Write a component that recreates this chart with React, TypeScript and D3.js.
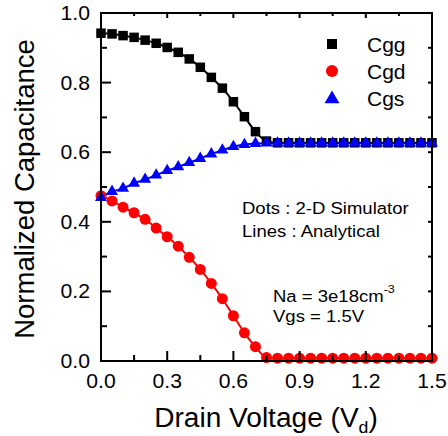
import React from "react";
import * as d3 from "d3";

const drainV = [0, 0.05, 0.1, 0.15, 0.2, 0.25, 0.3, 0.35, 0.4, 0.45, 0.5, 0.55, 0.6, 0.65, 0.7, 0.75, 0.8, 0.85, 0.9, 0.95, 1.0, 1.05, 1.1, 1.15, 1.2, 1.25, 1.3, 1.35, 1.4, 1.45, 1.5];
const cgg = [0.942, 0.94, 0.935, 0.93, 0.922, 0.913, 0.901, 0.887, 0.868, 0.844, 0.815, 0.784, 0.745, 0.702, 0.659, 0.632, 0.627, 0.627, 0.627, 0.627, 0.627, 0.627, 0.627, 0.627, 0.627, 0.627, 0.627, 0.627, 0.627, 0.627, 0.627];
const cgd = [0.475, 0.46, 0.442, 0.426, 0.407, 0.382, 0.357, 0.33, 0.298, 0.263, 0.223, 0.179, 0.13, 0.081, 0.041, 0.01, 0.008, 0.008, 0.008, 0.008, 0.008, 0.008, 0.008, 0.008, 0.008, 0.008, 0.008, 0.008, 0.008, 0.008, 0.008];
const cgs = [0.47, 0.487, 0.496, 0.511, 0.522, 0.534, 0.547, 0.558, 0.57, 0.582, 0.595, 0.606, 0.616, 0.622, 0.625, 0.626, 0.626, 0.626, 0.626, 0.626, 0.626, 0.626, 0.626, 0.626, 0.626, 0.626, 0.626, 0.626, 0.626, 0.626, 0.626];
const xMajor = [0, 0.3, 0.6, 0.9, 1.2, 1.5];
const xMinor = [0.15, 0.45, 0.75, 1.05, 1.35];
const yMajor = [0, 0.2, 0.4, 0.6, 0.8, 1.0];
const yMinor = [0.1, 0.3, 0.5, 0.7, 0.9];
const legendNames = ["Cgg", "Cgd", "Cgs"];

const FONT = "'Liberation Sans', Arial, sans-serif";

export default function App() {
  const x = d3.scaleLinear().domain([0, 1.5]).range([101, 432]);
  const y = d3.scaleLinear().domain([0, 1]).range([361, 13]);
  const line = (vals: number[]) =>
    d3.line<number>().x((_, i) => x(drainV[i])).y((v) => y(v)).curve(d3.curveMonotoneX)(vals) || "";
  const sq = 9.5;
  const tri = d3.symbol().type(d3.symbolTriangle).size(62)() || "";

  const L = x(0), R = x(1.5), T = y(1), B = y(0);
  const tickSx = 1.06;
  const annSx = 1.09;

  return (
    <svg width={448} height={436} style={{ position: "absolute", left: 0, top: 0, background: "#fff" }} fontFamily={FONT}>
      <rect width={448} height={436} fill="#fff" />
      {/* lines */}
      <path d={line(cgg)} fill="none" stroke="#000" strokeWidth={2} />
      <path d={line(cgd)} fill="none" stroke="#ff0000" strokeWidth={2} />
      <path d={line(cgs)} fill="none" stroke="#0000ff" strokeWidth={2} />
      {/* markers */}
      {cgg.map((v, i) => (
        <rect key={"g" + i} x={x(drainV[i]) - sq / 2} y={y(v) - sq / 2} width={sq} height={sq} fill="#000" />
      ))}
      {cgd.map((v, i) => (
        <circle key={"d" + i} cx={x(drainV[i])} cy={y(v)} r={5.5} fill="#ff0000" />
      ))}
      {cgs.map((v, i) => (
        <path key={"s" + i} d={tri} transform={`translate(${x(drainV[i])},${y(v)})`} fill="#0000ff" />
      ))}
      {/* frame */}
      <rect x={L} y={T} width={R - L} height={B - T} fill="none" stroke="#000" strokeWidth={2} />
      {xMajor.map((t) => (
        <g key={"xm" + t}>
          <line x1={x(t)} x2={x(t)} y1={B} y2={B - 10} stroke="#000" strokeWidth={2} />
          <line x1={x(t)} x2={x(t)} y1={T} y2={T + 5} stroke="#000" strokeWidth={2} />
          <text transform={`translate(${x(t)},388) scale(${tickSx},1)`} textAnchor="middle" fontSize={20}>{t.toFixed(1)}</text>
        </g>
      ))}
      {xMinor.map((t) => (
        <g key={"xn" + t}>
          <line x1={x(t)} x2={x(t)} y1={B} y2={B - 6} stroke="#000" strokeWidth={2} />
          <line x1={x(t)} x2={x(t)} y1={T} y2={T + 3} stroke="#000" strokeWidth={2} />
        </g>
      ))}
      {yMajor.map((t) => (
        <g key={"ym" + t}>
          <line x1={L} x2={L + 10} y1={y(t)} y2={y(t)} stroke="#000" strokeWidth={2} />
          <line x1={R} x2={R - 4} y1={y(t)} y2={y(t)} stroke="#000" strokeWidth={2} />
          <text transform={`translate(90,${y(t) + 7}) scale(${tickSx},1)`} textAnchor="end" fontSize={20}>{t.toFixed(1)}</text>
        </g>
      ))}
      {yMinor.map((t) => (
        <g key={"yn" + t}>
          <line x1={L} x2={L + 6} y1={y(t)} y2={y(t)} stroke="#000" strokeWidth={2} />
          <line x1={R} x2={R - 4} y1={y(t)} y2={y(t)} stroke="#000" strokeWidth={2} />
        </g>
      ))}
      {/* axis titles */}
      <text transform={`translate(266,427) scale(1.04,1)`} textAnchor="middle" fontSize={27}>
        Drain Voltage (V<tspan fontSize={17} dy={6}>d</tspan><tspan dy={-6}>)</tspan>
      </text>
      <text transform={`translate(34,${(T + B) / 2 + 2}) rotate(-90)`} textAnchor="middle" fontSize={27.5}>
        Normalized Capacitance
      </text>
      {/* legend */}
      {legendNames.map((n, i) => {
        const ly = 44 + i * 27;
        return (
          <g key={n}>
            {i === 0 && <rect x={332 - 5} y={ly - 5} width={10} height={10} fill="#000" />}
            {i === 1 && <circle cx={332} cy={ly} r={6} fill="#ff0000" />}
            {i === 2 && <path d={d3.symbol().type(d3.symbolTriangle).size(95)() || ""} transform={`translate(332,${ly + 1})`} fill="#0000ff" />}
            <text x={367} y={ly + 7.5} fontSize={21}>{n}</text>
          </g>
        );
      })}
      {/* annotations */}
      <text transform={`translate(242,214) scale(${annSx},1)`} fontSize={17}>Dots : 2-D Simulator</text>
      <text transform={`translate(242,237) scale(${annSx},1)`} fontSize={17}>Lines : Analytical</text>
      <text transform={`translate(273,302) scale(${annSx},1)`} fontSize={17}>
        Na = 3e18cm<tspan fontSize={11.5} dy={-9}>-3</tspan>
      </text>
      <text transform={`translate(273,322) scale(${annSx},1)`} fontSize={17}>Vgs = 1.5V</text>
    </svg>
  );
}
